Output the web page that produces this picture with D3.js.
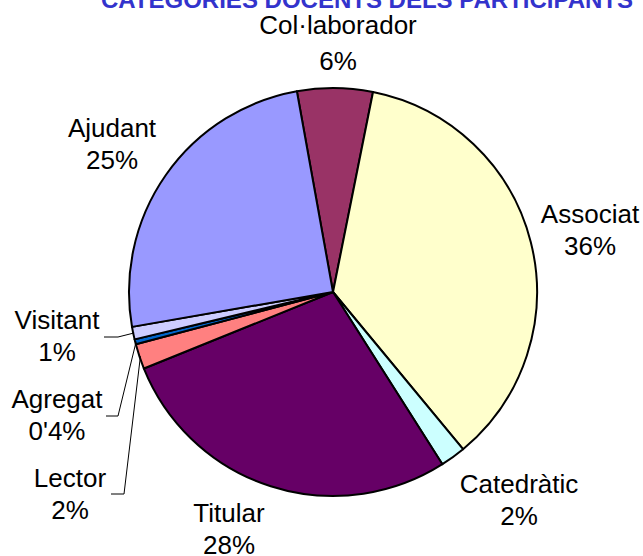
<!DOCTYPE html>
<html>
<head>
<meta charset="utf-8">
<script src="https://cdn.jsdelivr.net/npm/d3@7"></script>
<style>
  body { margin: 0; background: #fff; }
  svg { display: block; }
  text { font-family: "Liberation Sans", Arial, sans-serif; }
</style>
</head>
<body>
<svg width="643" height="556"></svg>
<script>
// data
var categories = ['Col·laborador', 'Associat', 'Catedràtic', 'Titular', 'Lector', 'Agregat', 'Visitant', 'Ajudant'];
var values     = [6, 36, 2, 28, 2, 0.4, 1, 25];
var pctLabels  = ['6%', '36%', '2%', '28%', '2%', "0'4%", '1%', '25%'];
var colors     = ['#993366', '#ffffcc', '#ccffff', '#660066', '#ff8080', '#0066cc', '#ccccff', '#9999ff'];
var title = 'CATEGORIES DOCENTS DELS PARTICIPANTS';

// where excel left the labels (centre x, first baseline)
var labelLayout = {
  'Col·laborador': [338, 34],
  'Associat':      [590, 223],
  'Catedràtic':    [519, 493],
  'Titular':       [229, 522],
  'Lector':        [70, 487],
  'Agregat':       [57, 408],
  'Visitant':      [57, 329],
  'Ajudant':       [112, 137]
};
// leader line start points for the thin slices
var leaders = {
  'Visitant': [[104, 337], [118, 337]],
  'Agregat':  [[106, 416], [118, 416]],
  'Lector':   [[111, 494], [124, 494]]
};

var svg = d3.select('svg');
var cx = 333, cy = 292, r = 204;

// title sits mostly above the top edge, as in the original
svg.append('text')
    .attr('x', 367).attr('y', 8)
    .attr('text-anchor', 'middle')
    .attr('font-weight', 'bold')
    .attr('font-size', 24)
    .attr('fill', '#3333cc')
    .text(title);

var pie = d3.pie().sort(null)
    .startAngle(-10.2 * Math.PI / 180)
    .endAngle((360 - 10.2) * Math.PI / 180);
var arcs = pie(values);
var arc = d3.arc().innerRadius(0).outerRadius(r);

var g = svg.append('g').attr('transform', 'translate(' + cx + ',' + cy + ')');

g.selectAll('path.slice')
    .data(arcs)
  .enter().append('path')
    .attr('class', 'slice')
    .attr('d', arc)
    .attr('fill', function(d, i){ return colors[i]; })
    .attr('stroke', '#000')
    .attr('stroke-width', 2)
    .attr('stroke-linejoin', 'round');

// leader lines
arcs.forEach(function(d, i){
  var pts = leaders[categories[i]];
  if(!pts) return;
  var a = (d.startAngle + d.endAngle) / 2;
  var end = [cx + Math.sin(a) * (r - 1), cy - Math.cos(a) * (r - 1)];
  svg.append('path')
      .attr('d', d3.line()(pts.concat([end])))
      .attr('fill', 'none')
      .attr('stroke', '#000')
      .attr('stroke-width', 1);
});

var labels = svg.selectAll('text.lbl')
    .data(categories)
  .enter().append('text')
    .attr('class', 'lbl')
    .attr('text-anchor', 'middle')
    .attr('font-size', 26)
    .attr('fill', '#000');

labels.each(function(name, i){
  var p = labelLayout[name];
  var t = d3.select(this);
  t.append('tspan').attr('x', p[0]).attr('y', p[1]).text(name);
  t.append('tspan').attr('x', p[0]).attr('y', p[1] + (name === 'Col·laborador' ? 36 : 32)).text(pctLabels[i]);
});
</script>
</body>
</html>
